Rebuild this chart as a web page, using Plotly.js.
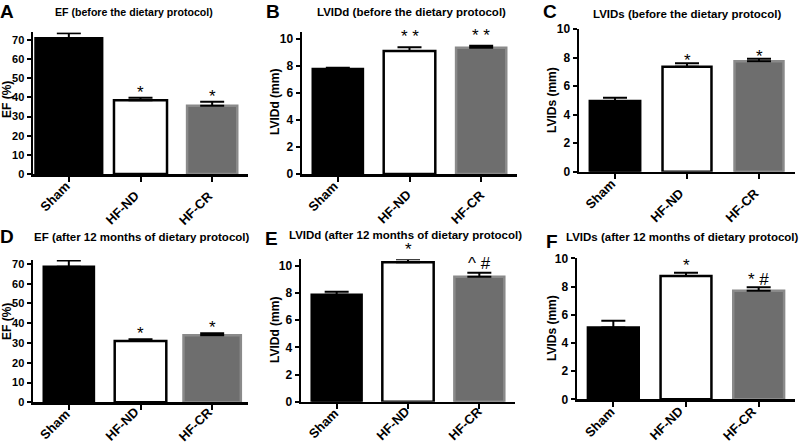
<!DOCTYPE html>
<html><head><meta charset="utf-8">
<script src="https://cdn.plot.ly/plotly-3.0.1.min.js"></script>
<style>html,body{margin:0;padding:0;background:#fff}#chart{width:800px;height:445px}</style>
</head><body><div id="chart"></div>
<script>
// ---- data ----
const categories = ['Sham', 'HF-ND', 'HF-CR'];

const efBefore      = [71.0, 38.5, 35.7];
const efBeforeErr   = [2.6, 1.4, 2.0];
const efBeforeSig   = ['', '*', '*'];

const lviddBefore    = [7.78, 9.10, 9.35];
const lviddBeforeErr = [0.08, 0.28, 0.15];
const lviddBeforeSig = ['', '* *', '* *'];

const lvidsBefore    = [4.95, 7.36, 7.74];
const lvidsBeforeErr = [0.24, 0.24, 0.18];
const lvidsBeforeSig = ['', '*', '*'];

const efAfter      = [68.6, 31.0, 33.9];
const efAfterErr   = [3.1, 0.9, 1.0];
const efAfterSig   = ['', '*', '*'];

const lviddAfter    = [7.88, 10.27, 9.21];
const lviddAfterErr = [0.22, 0.23, 0.29];
const lviddAfterSig = ['', '*', '^ #'];

const lvidsAfter    = [5.10, 8.74, 7.70];
const lvidsAfterErr = [0.47, 0.24, 0.24];
const lvidsAfterSig = ['', '*', '* #'];

const panelLetters = ['A', 'B', 'C', 'D', 'E', 'F'];
const panelTitles = [
  'EF (before the dietary protocol)',
  'LVIDd (before the dietary protocol)',
  'LVIDs (before the dietary protocol)',
  'EF (after 12 months of dietary protocol)',
  'LVIDd (after 12 months of dietary protocol)',
  'LVIDs (after 12 months of dietary protocol)'
];
const yTitles = ['EF (%)', 'LVIDd (mm)', 'LVIDs (mm)', 'EF (%)', 'LVIDd (mm)', 'LVIDs (mm)'];

// ---- layout helpers (pixel geometry of the figure) ----
const W = 800, H = 445;
const px = v => v / W;
const py = v => 1 - v / H;
const LABEL_ANGLE = -45;

const panels = [
  {vals: efBefore,    err: efBeforeErr,    sig: efBeforeSig,    yr: [0, 74],   dtick: 10, tfz: 11, x0: 33,  x1: 248, yb: 174,   yt: 32.4, lx: 7,   ly: 11,  tx: 134, ty: 12,  tfs: 10.6, yx: 7,   yy: 100, sigShift: -6, lab: [[-14, 22], [-19, 34], [-17, 34]], widths: [0.93, 0.74, 0.70]},
  {vals: lviddBefore, err: lviddBeforeErr, sig: lviddBeforeSig, yr: [0, 10.5], dtick: 2,  tfz: 12, x0: 302, x1: 517, yb: 174,   yt: 32.2, lx: 273, ly: 11,  tx: 411, ty: 12,  tfs: 11.5, yx: 275, yy: 102, sigShift: -1, lab: [[-15, 22], [-16, 33], [-14, 33]], widths: [0.70, 0.72, 0.70]},
  {vals: lvidsBefore, err: lvidsBeforeErr, sig: lvidsBeforeSig, yr: [0, 10],   dtick: 2,  tfz: 12, x0: 579, x1: 795, yb: 171.7, yt: 29,   lx: 550, ly: 11,  tx: 687, ty: 14,  tfs: 11.5, yx: 552, yy: 100, sigShift: -9, lab: [[-15, 23], [-20, 34], [-17, 34]], widths: [0.70, 0.68, 0.68]},
  {vals: efAfter,     err: efAfterErr,     sig: efAfterSig,     yr: [0, 72],   dtick: 10, tfz: 11, x0: 33,  x1: 248, yb: 402.3, yt: 260,  lx: 7,   ly: 236, tx: 141, ty: 237, tfs: 11.5, yx: 7,   yy: 322, sigShift: -6, lab: [[-14, 22], [-19, 22], [-17, 22]], widths: [0.70, 0.72, 0.80]},
  {vals: lviddAfter,  err: lviddAfterErr,  sig: lviddAfterSig,  yr: [0, 10.5], dtick: 2,  tfz: 12, x0: 301, x1: 515, yb: 401.7, yt: 259.2,lx: 271, ly: 238, tx: 405, ty: 235, tfs: 11.5, yx: 275, yy: 330, sigShift: -2, lab: [[-13, 22], [-15, 22], [-14, 22]], widths: [0.70, 0.72, 0.70]},
  {vals: lvidsAfter,  err: lvidsAfterErr,  sig: lvidsAfterSig,  yr: [0, 10],   dtick: 2,  tfz: 12, x0: 577, x1: 795, yb: 399.3, yt: 258.3,lx: 552, ly: 241, tx: 682, ty: 237, tfs: 11.5, yx: 552, yy: 328, sigShift: -4, lab: [[-14, 23], [-20, 24], [-19, 24]], widths: [0.70, 0.70, 0.70]}
];

const FONT = 'Liberation Sans, Arial, Helvetica, sans-serif';
const fillColors = ['#000000', '#ffffff', '#6e6e6e'];
const lineColors = ['#000000', '#000000', '#8a8a8a'];

const data = [];
const layout = {
  width: W, height: H, autosize: false,
  margin: {l: 0, r: 0, t: 0, b: 0, pad: 0},
  paper_bgcolor: '#fff', plot_bgcolor: '#fff',
  showlegend: false,
  font: {family: FONT, color: '#000'},
  annotations: []
};

panels.forEach((p, i) => {
  const n = i + 1;
  const xa = 'x' + (n === 1 ? '' : n), ya = 'y' + (n === 1 ? '' : n);
  data.push({
    type: 'bar', x: categories, y: p.vals, xaxis: xa, yaxis: ya,
    width: p.widths,
    marker: {color: fillColors, line: {color: lineColors, width: 2.5}},
    error_y: {type: 'data', symmetric: false, array: p.err, arrayminus: [0, 0, 0],
              color: '#000', thickness: 2, width: 12},
    hoverinfo: 'skip'
  });
  const axKey = 'xaxis' + (n === 1 ? '' : n), ayKey = 'yaxis' + (n === 1 ? '' : n);
  layout[axKey] = {
    domain: [px(p.x0), px(p.x1)], anchor: ya, range: [-0.5, 2.5],
    showline: true, linecolor: '#000', linewidth: 2.5, showgrid: false, zeroline: false,
    ticks: 'outside', ticklen: 5, tickwidth: 2, tickcolor: '#000',
    showticklabels: false, fixedrange: true
  };
  layout[ayKey] = {
    domain: [py(p.yb), py(p.yt)], anchor: xa, range: p.yr, dtick: p.dtick, tick0: 0,
    showline: true, linecolor: '#000', linewidth: 2.5, showgrid: false, zeroline: false,
    ticks: 'outside', ticklen: 4, tickwidth: 2, tickcolor: '#000',
    tickfont: {family: FONT, size: p.tfz, weight: 'bold', color: '#000'},
    fixedrange: true
  };
  // y-axis title
  layout.annotations.push({
    xref: 'paper', yref: 'paper', x: px(p.yx), y: py(p.yy), xanchor: 'center', yanchor: 'middle',
    text: yTitles[i], textangle: -90, showarrow: false,
    font: {family: FONT, size: 12, weight: 'bold', color: '#000'}
  });
  // slanted category labels, placed on the category axis
  categories.forEach((c, k) => {
    layout.annotations.push({
      xref: xa, yref: 'paper', x: c, y: py(p.yb), xanchor: 'center', yanchor: 'middle',
      xshift: p.lab[k][0], yshift: -p.lab[k][1], borderpad: 0,
      text: c, textangle: LABEL_ANGLE, showarrow: false,
      font: {family: FONT, size: 13, weight: 'bold', color: '#000'}
    });
  });
  // panel letter
  layout.annotations.push({
    xref: 'paper', yref: 'paper', x: px(p.lx), y: py(p.ly), xanchor: 'center', yanchor: 'middle',
    text: panelLetters[i], showarrow: false, font: {family: FONT, size: 19, weight: 'bold', color: '#000'}
  });
  // panel title
  layout.annotations.push({
    xref: 'paper', yref: 'paper', x: px(p.tx), y: py(p.ty), xanchor: 'center', yanchor: 'middle',
    text: panelTitles[i], showarrow: false, font: {family: FONT, size: p.tfs, weight: 'bold', color: '#000'}
  });
  // significance marks above the error bars
  categories.forEach((c, k) => {
    if (!p.sig[k]) return;
    layout.annotations.push({
      xref: xa, yref: ya, x: c, y: p.vals[k] + p.err[k], xanchor: 'center', yanchor: 'bottom',
      yshift: p.sigShift, text: p.sig[k], showarrow: false,
      font: {family: FONT, size: 17, color: '#000'}
    });
  });
});

Plotly.newPlot('chart', data, layout, {staticPlot: true, displayModeBar: false});
</script>
</body></html>
